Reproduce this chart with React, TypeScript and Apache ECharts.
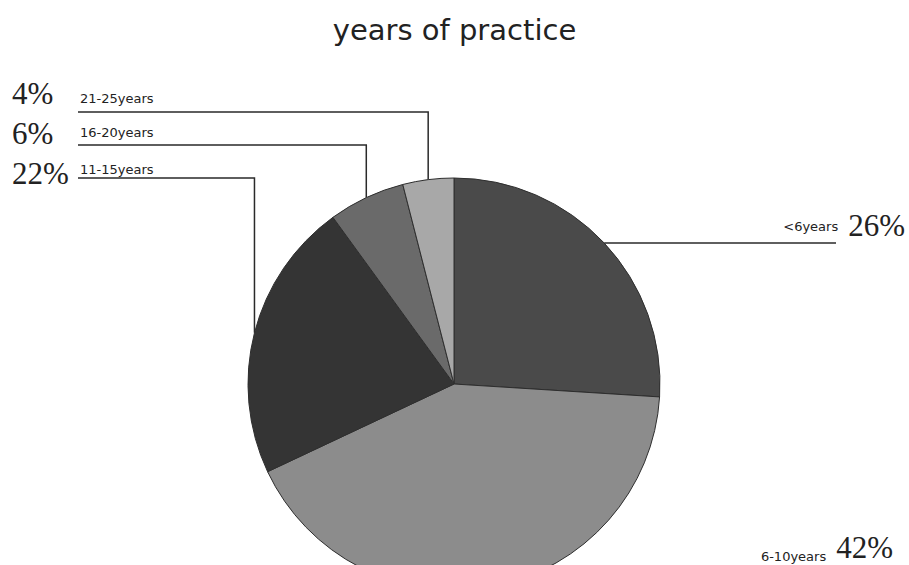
import React, { useEffect, useRef } from "react";
import * as echarts from "echarts";

// ---- data ----
const categories = ["<6years", "6-10years", "11-15years", "16-20years", "21-25years"];
const percentages = [26, 42, 22, 6, 4];
const titleText = "years of practice";

// ---- styling / layout (kept separate from the data) ----
const sliceColors = ["#4a4a4a", "#8c8c8c", "#343434", "#6a6a6a", "#a8a8a8"];
const CX = 454;
const CY = 384;
const R = 206;
// per-slice label placement
const labelPlacement = [
  { side: "right", line: true, labelX: 905, endX: 836, textY: 0, smallShift: -4 },
  { side: "right", line: false, labelX: 893, endX: 0, textY: 563, smallShift: 0 },
  { side: "left", line: true, labelX: 12, endX: 78, lineY: 178, textY: 173, smallShift: -4 },
  { side: "left", line: true, labelX: 12, endX: 78, lineY: 145, textY: 133, smallShift: -1 },
  { side: "left", line: true, labelX: 12, endX: 78, lineY: 112, textY: 93, smallShift: 5 },
];

function anchorOf(index: number): [number, number] {
  const total = percentages.reduce((a, b) => a + b, 0);
  let cum = 0;
  for (let i = 0; i < index; i++) cum += percentages[i];
  const mid = (cum + percentages[index] / 2) / total;
  const theta = mid * Math.PI * 2;
  return [CX + R * Math.sin(theta), CY - R * Math.cos(theta)];
}

function shiftPadding(s: number) {
  return s >= 0 ? [2 * s, 0, 0, 0] : [0, 0, -2 * s, 0];
}

export default function App() {
  const ref = useRef<HTMLDivElement>(null);
  useEffect(() => {
    if (!ref.current) return;
    const chart = echarts.init(ref.current, undefined, { renderer: "svg" });
    const data = categories.map((name, i) => ({
      name,
      value: percentages[i],
      itemStyle: { color: sliceColors[i] },
      labelLine: { show: labelPlacement[i].line },
    }));
    const rich: any = {
      rp: {
        fontFamily: "Liberation Serif",
        fontSize: 31,
        lineHeight: 32,
        verticalAlign: "bottom",
        padding: [0, 0, 0, 10],
        color: "#222222",
      },
      lp: {
        fontFamily: "Liberation Serif",
        fontSize: 31,
        lineHeight: 32,
        width: 68,
        align: "left",
        color: "#222222",
      },
    };
    labelPlacement.forEach((pl, i) => {
      if (pl.side === "right") {
        rich["rn" + i] = {
          fontFamily: "DejaVu Sans",
          fontSize: 13,
          lineHeight: 20,
          verticalAlign: "bottom",
          padding: shiftPadding(pl.smallShift),
          color: "#222222",
        };
      } else {
        rich["ln" + i] = {
          fontFamily: "DejaVu Sans",
          fontSize: 13,
          lineHeight: 16,
          padding: shiftPadding(pl.smallShift),
          color: "#222222",
        };
      }
    });
    chart.setOption({
      animation: false,
      backgroundColor: "#ffffff",
      title: {
        text: titleText,
        left: "center",
        top: 10,
        textStyle: {
          fontFamily: "DejaVu Sans",
          fontSize: 29,
          fontWeight: "normal",
          color: "#222222",
        },
      },
      series: [
        {
          type: "pie",
          center: [CX, CY],
          radius: R,
          startAngle: 90,
          clockwise: true,
          avoidLabelOverlap: false,
          data,
          itemStyle: { borderColor: "#2e2e2e", borderWidth: 1 },
          emphasis: { disabled: true },
          label: {
            show: true,
            position: "outside",
            color: "#222222",
            formatter: (p: any) => {
              const pl = labelPlacement[p.dataIndex];
              return pl.side === "right"
                ? `{rn${p.dataIndex}|${p.name}}{rp|${p.value}%}`
                : `{lp|${p.value}%}{ln${p.dataIndex}|${p.name}}`;
            },
            rich,
          },
          labelLine: {
            show: true,
            lineStyle: { color: "#2a2a2a", width: 1.5 },
          },
          labelLayout: (params: any) => {
            const i = params.dataIndex;
            const pl: any = labelPlacement[i];
            const [ax, ay] = anchorOf(i);
            if (pl.side === "right") {
              if (!pl.line) {
                return {
                  x: pl.labelX,
                  y: pl.textY,
                  align: "right",
                  verticalAlign: "bottom",
                };
              }
              return {
                x: pl.labelX,
                y: ay - 2,
                align: "right",
                verticalAlign: "bottom",
                labelLinePoints: [
                  [ax, ay],
                  [(ax + pl.endX) / 2, ay],
                  [pl.endX, ay],
                ],
              };
            }
            return {
              x: pl.labelX,
              y: pl.textY,
              align: "left",
              verticalAlign: "middle",
              labelLinePoints: [
                [ax, ay],
                [ax, pl.lineY],
                [pl.endX, pl.lineY],
              ],
            };
          },
        },
      ],
    });
    return () => chart.dispose();
  }, []);
  return (
    <div
      ref={ref}
      style={{ position: "fixed", left: 0, top: 0, width: 909, height: 565 }}
    />
  );
}
